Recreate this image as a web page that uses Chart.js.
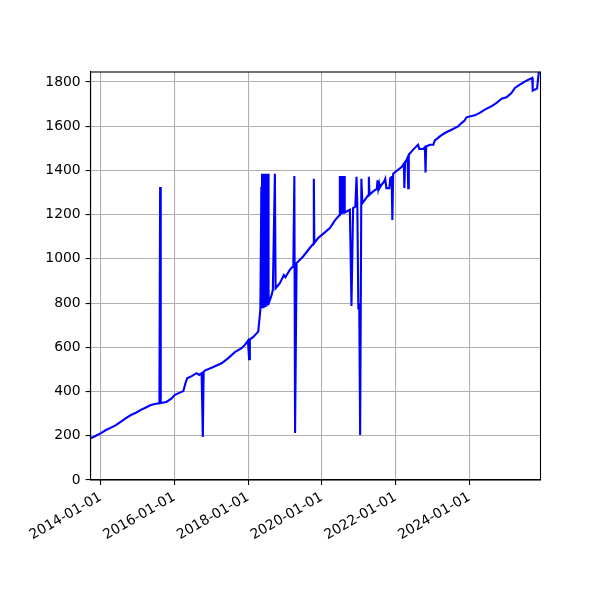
<!DOCTYPE html>
<html>
<head>
<meta charset="utf-8">
<script src="https://cdn.jsdelivr.net/npm/chart.js@4/dist/chart.umd.min.js"></script>
<style>
html,body{margin:0;padding:0;background:#fff;}
#wrap{width:600px;height:600px;position:relative;}
</style>
</head>
<body>
<div id="wrap"><canvas id="c" width="600" height="600"></canvas></div>
<script>
// ---- data ----
const dates = [
 "2013-09-22","2013-11-05","2014-01-04","2014-02-22","2014-04-13","2014-06-01","2014-07-21","2014-09-08",
 "2014-10-28","2014-12-16","2015-02-03","2015-03-25","2015-05-13","2015-07-02","2015-08-06","2015-08-13",
 "2015-08-19","2015-10-14","2015-12-02","2016-01-06","2016-02-25","2016-03-30","2016-04-21","2016-05-07",
 "2016-06-20","2016-08-08","2016-09-03","2016-09-27","2016-10-09","2016-10-17","2016-10-29","2017-01-04",
 "2017-04-13","2017-06-18","2017-08-23","2017-10-28","2017-11-30","2017-12-30","2018-01-11","2018-01-18",
 "2018-02-19","2018-04-11","2018-05-02",
 "2018-05-12","2018-05-15","2018-05-19","2018-05-22","2018-05-26","2018-05-29","2018-06-02","2018-06-05",
 "2018-06-09","2018-06-12","2018-06-16","2018-06-19","2018-06-23","2018-06-26","2018-06-30","2018-07-03",
 "2018-07-07","2018-07-10","2018-07-14","2018-07-17","2018-07-21","2018-07-24","2018-07-29",
 "2018-08-22",
 "2018-09-03","2018-09-23","2018-09-30","2018-11-11","2018-12-21","2019-01-05","2019-02-18","2019-03-25",
 "2019-04-04","2019-04-11","2019-04-26","2019-06-30","2019-09-04","2019-10-09","2019-10-14","2019-10-19",
 "2019-11-26","2020-01-14","2020-03-21","2020-05-10","2020-06-23","2020-06-28","2020-07-05","2020-07-12",
 "2020-07-19","2020-07-26","2020-08-02","2020-08-08","2020-08-15","2020-10-05","2020-10-21","2020-11-06",
 "2020-11-28","2020-12-10","2020-12-18","2020-12-28","2021-01-06","2021-01-15","2021-01-27","2021-02-06",
 "2021-03-03","2021-04-04","2021-04-11","2021-04-18","2021-05-24","2021-06-29","2021-07-06","2021-07-13",
 "2021-07-22","2021-07-29","2021-08-15","2021-09-10","2021-09-21","2021-10-01","2021-10-31","2021-11-10",
 "2021-11-23","2021-11-30","2021-12-08","2022-01-26","2022-03-01","2022-03-24","2022-03-29","2022-04-05",
 "2022-04-20","2022-04-30","2022-05-06","2022-05-12","2022-06-24","2022-08-12","2022-08-24","2022-10-01",
 "2022-10-18","2022-10-25","2022-10-31","2022-12-06","2023-01-10","2023-01-25","2023-02-26","2023-03-15",
 "2023-05-04","2023-07-09","2023-09-12","2023-10-16","2023-11-18","2023-12-04","2024-02-25","2024-04-14",
 "2024-06-03","2024-08-08","2024-09-27","2024-11-16","2025-01-04","2025-02-22","2025-03-28","2025-05-16",
 "2025-07-21","2025-09-16","2025-09-21","2025-11-03","2025-11-20","2025-12-07"
];
const values = [
 189,198,212,226,237,248,264,280,
 294,304,317,328,339,345,347,1325,
 348,353,368,385,395,402,439,460,
 470,483,475,483,195,488,495,508,
 528,551,578,596,611,630,546,636,
 646,671,769,
 1326,777,1385,779,1385,781,1385,783,
 1385,785,1385,787,1385,789,1385,791,
 1385,794,1385,797,1385,800,805,
 837,
 860,1385,867,890,927,917,950,968,
 1375,213,981,1011,1049,1068,1362,1072,
 1094,1113,1139,1174,1197,1375,1200,1375,
 1202,1375,1205,1375,1210,1222,787,1230,
 1236,1371,1242,784,790,204,1362,1252,
 1267,1287,1371,1290,1305,1316,1355,1318,
 1340,1322,1335,1350,1362,1320,1320,1365,
 1370,1176,1385,1403,1415,1430,1320,1436,
 1448,1458,1320,1471,1494,1516,1497,1497,
 1505,1391,1508,1516,1516,1536,1547,1554,
 1569,1584,1599,1614,1627,1640,1649,1660,
 1675,1690,1705,1724,1731,1750,1773,1788,
 1806,1818,1761,1770,1845,1845
];
const xTickLabels = ["2014-01-01","2016-01-01","2018-01-01","2020-01-01","2022-01-01","2024-01-01"];
const yTickValues = [0,200,400,600,800,1000,1200,1400,1600,1800];
const yMin = 0;
const yMax = 1845;

// ---- chart ----
const points = dates.map((d, i) => ({ x: Date.parse(d), y: values[i] }));
const fmtDate = v => new Date(v).toISOString().slice(0, 10);
const FONT = { family: "'DejaVu Sans', sans-serif", size: 13.9 };

const frame = {
  id: 'frame',
  afterDatasetsDraw(chart) {
    const a = chart.chartArea, ctx = chart.ctx;
    ctx.save();
    ctx.strokeStyle = '#000';
    ctx.lineWidth = 1.1;
    ctx.strokeRect(a.left, a.top, a.right - a.left, a.bottom - a.top);
    ctx.restore();
  }
};

new Chart(document.getElementById('c'), {
  type: 'line',
  data: {
    datasets: [{
      data: points,
      borderColor: '#0000ff',
      borderWidth: 2.1,
      pointRadius: 0,
      tension: 0,
      fill: false
    }]
  },
  options: {
    responsive: false,
    animation: false,
    events: [],
    layout: { padding: { top: 72, right: 59.5, left: 0, bottom: 0 } },
    plugins: { legend: { display: false }, tooltip: { enabled: false } },
    scales: {
      x: {
        type: 'linear',
        min: points[0].x,
        max: points[points.length - 1].x,
        afterFit(s) { s.height = 120; },
        afterBuildTicks(s) { s.ticks = xTickLabels.map(t => ({ value: Date.parse(t) })); },
        grid: { color: '#b0b0b0', lineWidth: 1.1, tickColor: '#000', tickLength: 4.9, tickWidth: 1.1 },
        border: { display: true, color: '#000', width: 1.1 },
        ticks: {
          autoSkip: false, minRotation: 30, maxRotation: 30, padding: 4,
          color: '#000', font: FONT,
          callback: v => fmtDate(v)
        }
      },
      y: {
        type: 'linear',
        min: yMin,
        max: yMax,
        afterFit(s) { s.width = 90.5; },
        afterBuildTicks(s) { s.ticks = yTickValues.map(v => ({ value: v })); },
        grid: { color: '#b0b0b0', lineWidth: 1.1, tickColor: '#000', tickLength: 4.9, tickWidth: 1.1 },
        border: { display: true, color: '#000', width: 1.1 },
        ticks: { padding: 4.9, color: '#000', font: FONT, callback: v => String(v) }
      }
    }
  },
  plugins: [frame]
});
</script>
</body>
</html>
